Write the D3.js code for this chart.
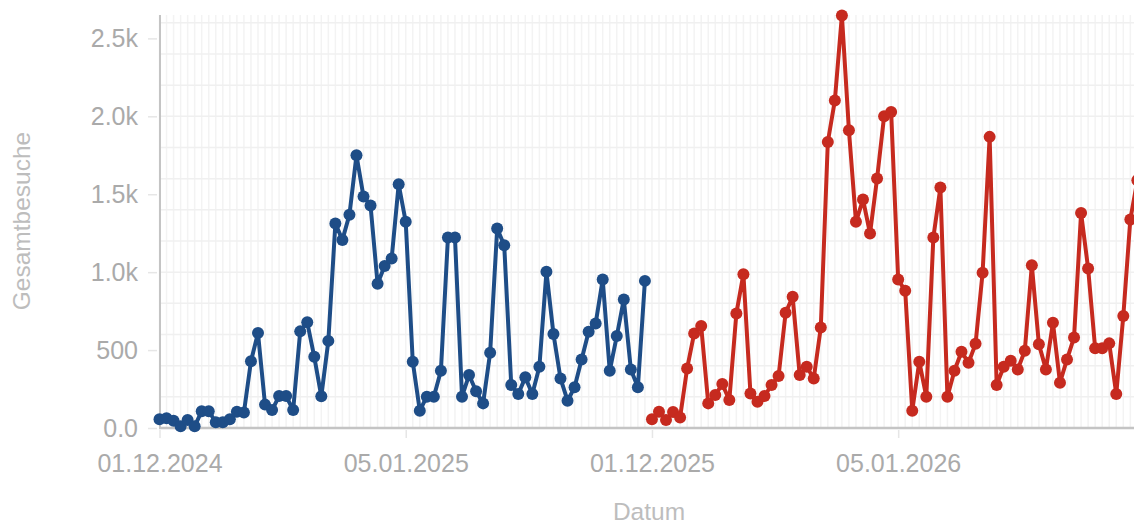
<!DOCTYPE html>
<html>
<head>
<meta charset="utf-8">
<script src="https://cdn.jsdelivr.net/npm/d3@7"></script>
<style>
  html, body { margin: 0; padding: 0; background: #fff; overflow: hidden; }
  svg { display: block; font-family: "Liberation Sans", Arial, sans-serif; }
</style>
</head>
<body>
<script>
// daily visits, 01.12 - 08.02 of each season
var visits2425 = [56, 62, 47, 11, 52, 11, 108, 108, 37, 37,
  56, 105, 100, 428, 609, 150, 115, 205, 205, 115,
  620, 678, 457, 203, 559, 1312, 1207, 1368, 1750, 1485,
  1427, 925, 1040, 1088, 1564, 1323, 425, 111, 201, 201,
  367, 1222, 1222, 201, 340, 236, 158, 483, 1280, 1173,
  276, 218, 325, 218, 393, 1002, 603, 318, 175, 261,
  440, 617, 671, 953, 367, 590, 825, 376, 261, 944];
var visits2526 = [56, 105, 51, 102, 68, 382, 607, 654, 158, 212,
  282, 179, 735, 987, 222, 169, 205, 276, 333, 739,
  842, 340, 393, 318, 645, 1835, 2102, 2647, 1910, 1323,
  1466, 1248, 1601, 2000, 2028, 953, 880, 111, 425, 201,
  1222, 1543, 201, 367, 489, 419, 540, 996, 1868, 276,
  393, 431, 376, 496, 1045, 538, 376, 675, 291, 440,
  581, 1380, 1024, 511, 511, 543, 218, 718, 1338, 1590];

var days2425 = d3.timeDay.range(new Date(2024, 11, 1), new Date(2025, 1, 9));
var days2526 = d3.timeDay.range(new Date(2025, 11, 1), new Date(2026, 1, 9));
var tickLabels = ["01.12.2024", "05.01.2025", "01.12.2025", "05.01.2026"];
var yTicks = [0, 500, 1000, 1500, 2000, 2500];
var yGrid = d3.range(200, 2601, 200);

var fmtDay = d3.timeFormat("%d.%m.%Y");
var categories = days2425.concat(days2526).map(fmtDay);

var series = [
  { name: "2024/25", color: "#1e4d87", values: visits2425.map(function(v, i) { return { key: fmtDay(days2425[i]), value: v }; }) },
  { name: "2025/26", color: "#c62a1f", values: visits2526.map(function(v, i) { return { key: fmtDay(days2526[i]), value: v }; }) }
];

var W = 1134, H = 524;
var plotLeft = 160, plotBottom = 428, plotTop = 15;

var x = d3.scalePoint().domain(categories).range([159.5, 159.5 + (categories.length - 1) * 7.035]);
var y = d3.scaleLinear().domain([0, 2650]).range([plotBottom, plotTop]);

var svg = d3.select("body").append("svg")
  .attr("width", W)
  .attr("height", H);

// grid
var grid = svg.append("g").attr("class", "grid");
grid.selectAll("line.v")
  .data(categories)
  .enter().append("line").attr("class", "v")
  .attr("x1", function(d) { return x(d); })
  .attr("x2", function(d) { return x(d); })
  .attr("y1", plotTop)
  .attr("y2", plotBottom)
  .attr("stroke", "#f3f3f3")
  .attr("stroke-width", 1.5);
grid.selectAll("line.h")
  .data(yGrid)
  .enter().append("line").attr("class", "h")
  .attr("x1", plotLeft)
  .attr("x2", W)
  .attr("y1", function(d) { return y(d); })
  .attr("y2", function(d) { return y(d); })
  .attr("stroke", "#f0f0f0")
  .attr("stroke-width", 1.5);

// y axis
var yAxis = svg.append("g")
  .attr("transform", "translate(" + plotLeft + ",0)")
  .call(d3.axisLeft(y).tickValues(yTicks).tickSize(10).tickPadding(12)
    .tickFormat(function(d) { return d == 0 ? "0.0" : d < 1000 ? d : (d / 1000).toFixed(1) + "k"; }));
yAxis.select(".domain").remove();
yAxis.selectAll(".tick line").attr("stroke", "#e6e6e6").attr("stroke-width", 1.5).attr("x2", -12).attr("x1", -3);
yAxis.selectAll(".tick text").attr("fill", "#aaaaaa").attr("font-size", 25).attr("font-family", "Liberation Sans, Arial, sans-serif");

// x axis
var xAxis = svg.append("g")
  .attr("transform", "translate(0," + plotBottom + ")")
  .call(d3.axisBottom(x).tickValues(tickLabels).tickSize(10).tickPadding(16));
xAxis.select(".domain").remove();
xAxis.selectAll(".tick line").attr("stroke", "#e6e6e6").attr("stroke-width", 1.5).attr("y1", 2);
xAxis.selectAll(".tick text").attr("fill", "#aaaaaa").attr("font-size", 25).attr("font-family", "Liberation Sans, Arial, sans-serif");

svg.append("line")
  .attr("x1", plotLeft).attr("x2", plotLeft)
  .attr("y1", plotTop).attr("y2", plotBottom + 1)
  .attr("stroke", "#c4c4c4").attr("stroke-width", 2);
svg.append("line")
  .attr("x1", plotLeft - 1).attr("x2", W)
  .attr("y1", plotBottom).attr("y2", plotBottom)
  .attr("stroke", "#c4c4c4").attr("stroke-width", 2.5);

// titles
svg.append("text")
  .attr("transform", "translate(30," + 221 + ") rotate(-90)")
  .attr("text-anchor", "middle")
  .attr("fill", "#bdbdbd")
  .attr("font-size", 24.5)
  .text("Gesamtbesuche");
svg.append("text")
  .attr("x", 649)
  .attr("y", 520)
  .attr("text-anchor", "middle")
  .attr("fill", "#bdbdbd")
  .attr("font-size", 24.5)
  .text("Datum");

// series
var line = d3.line()
  .x(function(d) { return x(d.key); })
  .y(function(d) { return y(d.value); });

var s = svg.selectAll("g.series")
  .data(series)
  .enter().append("g").attr("class", "series");

s.append("path")
  .attr("d", function(d) { return line(d.values); })
  .attr("fill", "none")
  .attr("stroke", function(d) { return d.color; })
  .attr("stroke-width", 4)
  .attr("stroke-linejoin", "round");

s.selectAll("circle")
  .data(function(d) { return d.values.map(function(v) { return { key: v.key, value: v.value, color: d.color }; }); })
  .enter().append("circle")
  .attr("cx", function(d) { return x(d.key); })
  .attr("cy", function(d) { return y(d.value); })
  .attr("r", 6)
  .attr("fill", function(d) { return d.color; });
</script>
</body>
</html>
